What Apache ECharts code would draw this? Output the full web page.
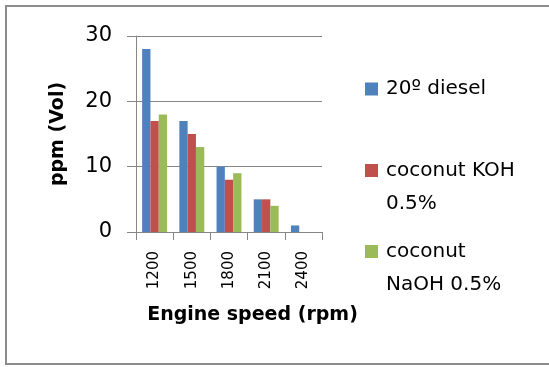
<!DOCTYPE html>
<html>
<head>
<meta charset="utf-8">
<script src="https://cdn.jsdelivr.net/npm/echarts@6/dist/echarts.min.js"></script>
<style>
  html, body { margin: 0; padding: 0; background: #ffffff; }
  #chart { width: 549px; height: 367px; }
</style>
</head>
<body>
<div id="chart"></div>
<script>
// Engine speed categories (rpm)
const speeds = ['1200', '1500', '1800', '2100', '2400'];

// Emissions in ppm (Vol) per fuel
const diesel = [28, 17, 10, 5, 1];
const cocoKOH = [17, 15, 8, 5, 0];
const cocoNaOH = [18, 13, 9, 4, 0];

const seriesNames = ['20º diesel', 'coconut KOH 0.5%', 'coconut NaOH 0.5%'];
const legendLabels = ['20º diesel', '\ncoconut KOH\n0.5%', '\ncoconut\nNaOH 0.5%'];
const colors = ['#4F81BD', '#C0504D', '#9BBB59'];

const axisGray = '#868686';
const font = 'DejaVu Sans';

// One legend block per series so each marker sits beside the first text line
function legendFor(i, top) {
  return {
    left: 365,
    top: top,
    padding: 0,
    orient: 'vertical',
    itemWidth: 13,
    itemHeight: 13,
    icon: 'rect',
    selectedMode: false,
    data: [seriesNames[i]],
    formatter: () => legendLabels[i],
    textStyle: {
      fontFamily: font,
      fontSize: 20,
      lineHeight: 33,
      color: '#000000',
      padding: [0, 0, 0, 3]
    }
  };
}

const chart = echarts.init(document.getElementById('chart'), null, { renderer: 'canvas' });

chart.setOption({
  animation: false,
  backgroundColor: '#ffffff',
  graphic: [{
    type: 'rect',
    shape: { x: 6, y: 6, width: 560, height: 358 },
    style: { fill: 'none', stroke: '#8c8c8c', lineWidth: 2 },
    silent: true,
    z: -1
  }],
  grid: { left: 136, top: 36, width: 186, height: 196, containLabel: false },
  legend: [legendFor(0, 72.5), legendFor(1, 121), legendFor(2, 202)],
  xAxis: {
    type: 'category',
    data: speeds,
    name: 'Engine speed (rpm)',
    nameLocation: 'middle',
    nameGap: 74,
    nameTextStyle: {
      fontFamily: font,
      fontWeight: 'bold',
      fontSize: 19,
      color: '#000000',
      padding: [0, 0, 0, 47]
    },
    axisLine: { lineStyle: { color: axisGray, width: 1 } },
    axisTick: { show: true, length: 8, lineStyle: { color: axisGray } },
    axisLabel: {
      rotate: 90,
      margin: 19,
      fontFamily: font,
      fontSize: 15,
      color: '#000000'
    }
  },
  yAxis: {
    type: 'value',
    min: 0,
    max: 30,
    interval: 10,
    name: 'ppm (Vol)',
    nameLocation: 'middle',
    nameRotate: 90,
    nameGap: 68,
    nameTextStyle: {
      fontFamily: font,
      fontWeight: 'bold',
      fontSize: 19,
      color: '#000000'
    },
    axisLine: { show: true, lineStyle: { color: axisGray, width: 1 } },
    axisTick: { show: true, length: 9, lineStyle: { color: axisGray } },
    splitLine: { show: true, lineStyle: { color: axisGray, width: 1 } },
    axisLabel: {
      margin: 24,
      fontFamily: font,
      fontSize: 21,
      color: '#000000'
    }
  },
  series: [
    { name: seriesNames[0], type: 'bar', data: diesel, itemStyle: { color: colors[0] }, barGap: '0%', barCategoryGap: '33%' },
    { name: seriesNames[1], type: 'bar', data: cocoKOH, itemStyle: { color: colors[1] }, barGap: '0%', barCategoryGap: '33%' },
    { name: seriesNames[2], type: 'bar', data: cocoNaOH, itemStyle: { color: colors[2] }, barGap: '0%', barCategoryGap: '33%' }
  ]
});
</script>
</body>
</html>
